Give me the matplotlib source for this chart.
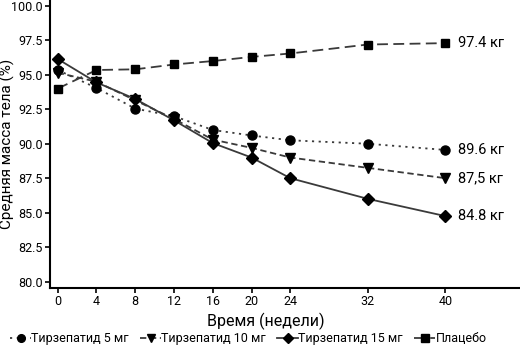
import matplotlib
matplotlib.use("Agg")
import matplotlib.pyplot as plt

plt.rcParams['font.family'] = ['Roboto', 'DejaVu Sans']

weeks = [0, 4, 8, 12, 16, 20, 24, 32, 40]
tirz5 = [95.35, 94.05, 92.55, 92.0, 91.0, 90.6, 90.25, 90.0, 89.55]
tirz10 = [95.15, 94.5, 93.15, 91.8, 90.3, 89.7, 89.0, 88.25, 87.5]
tirz15 = [96.15, 94.45, 93.25, 91.7, 90.05, 89.0, 87.5, 86.0, 84.75]
placebo = [94.0, 95.35, 95.4, 95.75, 96.0, 96.3, 96.55, 97.2, 97.3]

end_labels = ["89.6 кг", "87,5 кг", "84.8 кг", "97.4 кг"]
series_names = ["Тирзепатид 5 мг", "Тирзепатид 10 мг", "Тирзепатид 15 мг", "Плацебо"]
yticks = [80.0, 82.5, 85.0, 87.5, 90.0, 92.5, 95.0, 97.5, 100.0]

fig = plt.figure(figsize=(5.2, 3.51), dpi=100)
ax = fig.add_axes([0.096, 0.179, 0.904, 0.821])

lc = '#3a3a3a'
ax.plot(weeks, tirz5, linestyle=(0, (1.2, 2.5)), color=lc, lw=1.3,
        marker='o', ms=6.5, mfc='black', mec='black', label=series_names[0])
ax.plot(weeks, tirz10, linestyle=(0, (3.5, 2)), color=lc, lw=1.3,
        marker='v', ms=7.5, mfc='black', mec='black', label=series_names[1])
ax.plot(weeks, tirz15, linestyle='-', color=lc, lw=1.3,
        marker='D', ms=6, mfc='black', mec='black', label=series_names[2])
ax.plot(weeks, placebo, linestyle=(0, (6, 3)), color=lc, lw=1.3,
        marker='s', ms=6, mfc='black', mec='black', label=series_names[3])

for vals, txt in zip([tirz5, tirz10, tirz15, placebo], end_labels):
    ax.text(weeks[-1] + 1.3, vals[-1], txt, fontsize=10.5, va='center', ha='left')

ax.set_xlim(-0.8, 47.7)
ax.set_ylim(79.52, 100.43)
ax.set_xticks(weeks)
ax.set_yticks(yticks)
ax.set_yticklabels([f"{v:.1f}" for v in yticks])
ax.tick_params(labelsize=9, length=3.5, width=1.2, pad=1.5)
for s in ['top', 'right']:
    ax.spines[s].set_visible(False)
for s in ['left', 'bottom']:
    ax.spines[s].set_linewidth(1.5)

ax.set_xlabel("Время (недели)", fontsize=11.5, labelpad=1)
ax.xaxis.set_label_coords(0.46, -0.085)
ax.set_ylabel("Средняя масса тела (%)", fontsize=11, labelpad=2)
ax.yaxis.set_label_coords(-0.09, 0.5)
ax.yaxis.label.set_va('center')

fig.legend(loc='lower left', bbox_to_anchor=(0.005, -0.005), ncol=4, frameon=False,
           fontsize=9, handlelength=1.7, handletextpad=0.0, columnspacing=0.9,
           borderaxespad=0.2, markerscale=0.85)

fig.savefig("out.png", dpi=100)
